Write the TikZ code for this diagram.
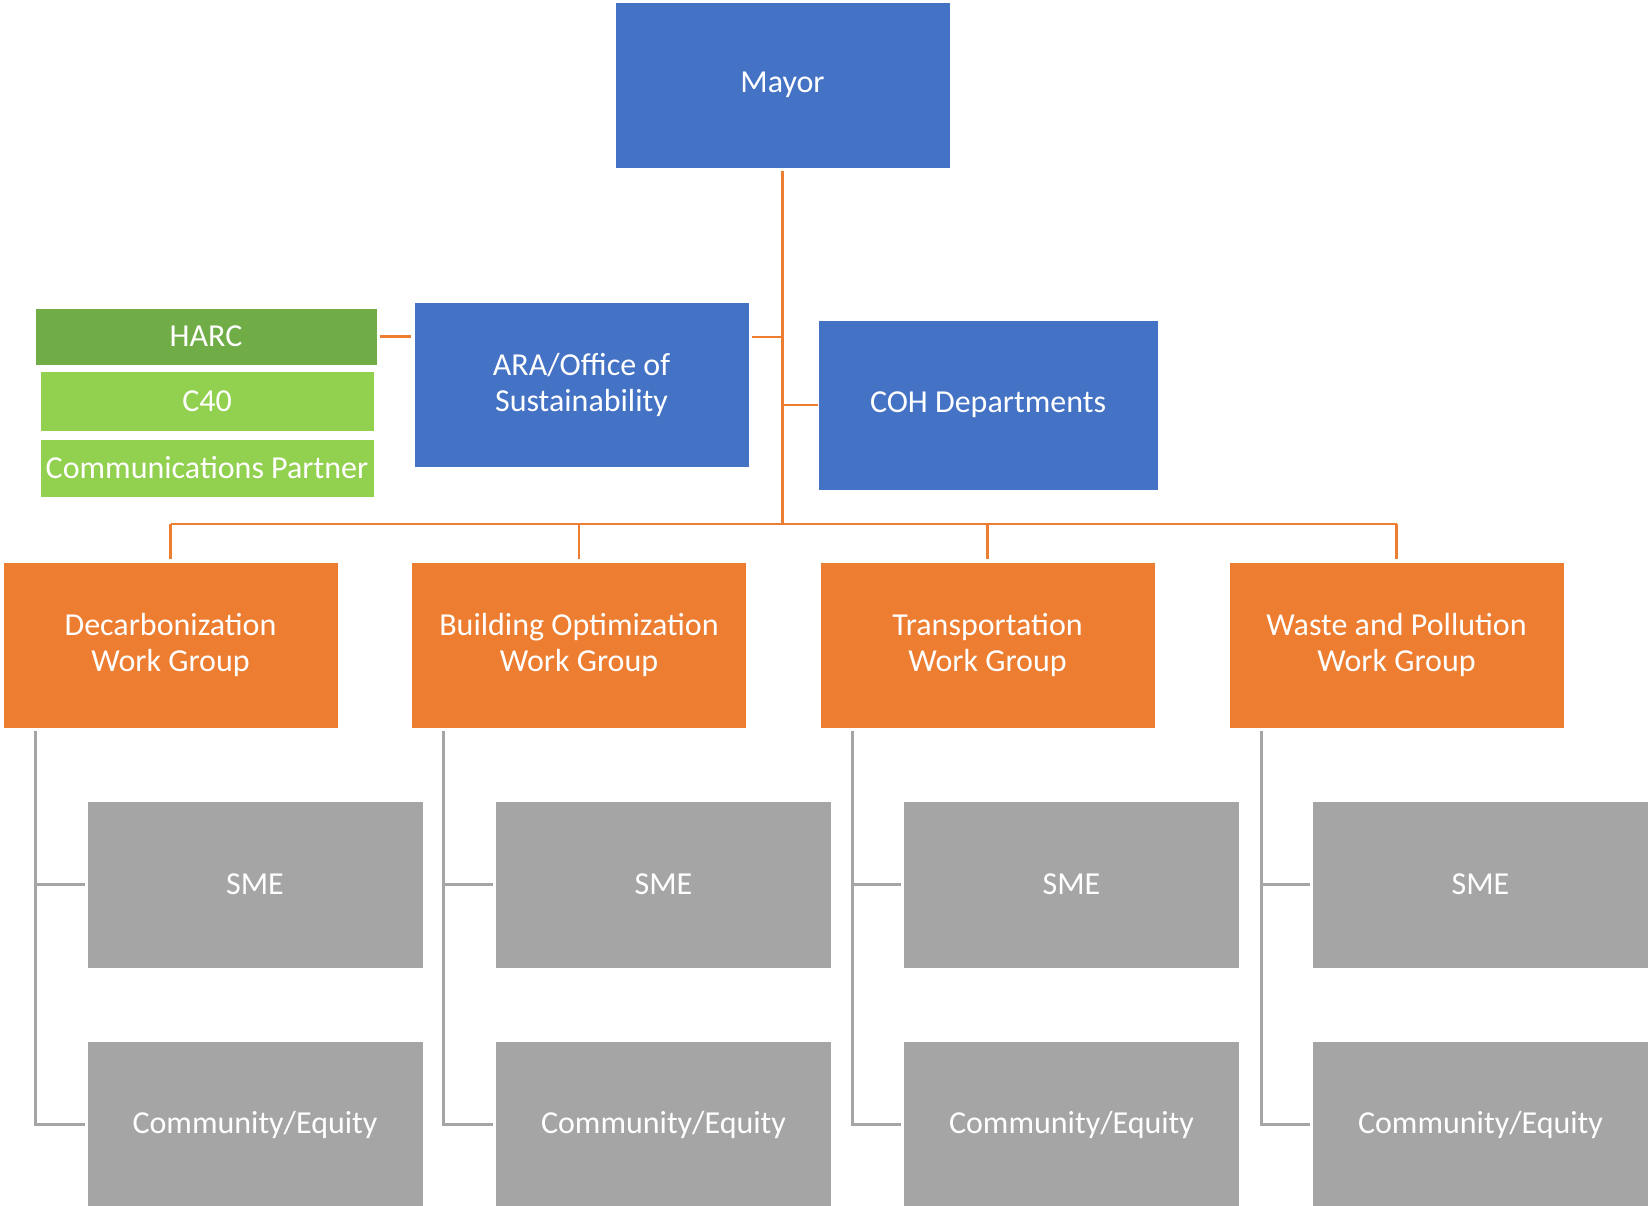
\documentclass[tikz,border=0pt]{standalone}
\usepackage{fontspec}
\setmainfont{Carlito}
\definecolor{cblue}{HTML}{4472C4}
\definecolor{corange}{HTML}{ED7D31}
\definecolor{cgray}{HTML}{A5A5A5}
\definecolor{cdgreen}{HTML}{70AD47}
\definecolor{clgreen}{HTML}{92D050}
\begin{document}
\begin{tikzpicture}[x=1pt,y=-1pt,font=\fontsize{32}{36}\selectfont,
  box/.style={rectangle,inner sep=0pt,text=white,align=center,draw=white,line width=0.6pt},
  bluebox/.style={box,fill=cblue},
  wgbox/.style={box,fill=corange,minimum width=335pt,minimum height=166pt},
  graybox/.style={box,fill=cgray,minimum width=336pt,minimum height=167pt},
  greenbox/.style={box,minimum width=334pt},
  oline/.style={draw=corange,line width=2.6pt},
  gline/.style={draw=cgray,line width=2.6pt}]
\useasboundingbox (0,0) rectangle (1649,1206);
\fill[white] (0,0) rectangle (1649,1206);
% top level
\node[bluebox,minimum width=335pt,minimum height=166pt] (mayor) at (782.5,85) {Mayor};
\node[bluebox,minimum width=335pt,minimum height=165pt] (ara) at (581.5,384.5) {ARA/Office of\\Sustainability};
\node[bluebox,minimum width=340pt,minimum height=170pt] (coh) at (988,405) {COH Departments};
% partners
\node[greenbox,fill=cdgreen,minimum width=342pt,minimum height=57pt] (harc) at (206,336.5) {HARC};
\node[greenbox,fill=clgreen,minimum height=60pt] (c40) at (207,401) {C40};
\node[greenbox,fill=clgreen,minimum height=58pt] (comm) at (207,468) {Communications Partner};
% work groups
\node[wgbox] (wg1) at (170.5,645) {Decarbonization\\Work Group};
\node[wgbox] (wg2) at (579,645) {Building Optimization\\Work Group};
\node[wgbox] (wg3) at (987.5,645) {Transportation\\Work Group};
\node[wgbox] (wg4) at (1396.5,645) {Waste and Pollution\\Work Group};
% sub groups
\node[graybox] (sme1) at (255,884.5) {SME};
\node[graybox] (sme2) at (663.5,884.5) {SME};
\node[graybox] (sme3) at (1071.5,884.5) {SME};
\node[graybox] (sme4) at (1480.5,884.5) {SME};
\node[graybox] (cq1) at (255,1124.5) {Community/Equity};
\node[graybox] (cq2) at (663.5,1124.5) {Community/Equity};
\node[graybox] (cq3) at (1071.5,1124.5) {Community/Equity};
\node[graybox] (cq4) at (1480.5,1124.5) {Community/Equity};
% orange connectors
\coordinate (bus) at (782.5,524);
\coordinate (j1) at (782.5,337);
\draw[oline] ([yshift=-3pt]mayor.south) -- (bus);
\draw[oline] ([xshift=3pt]j1 -| ara.east) -- (j1);
\draw[oline] (coh.west -| bus) -- (coh.west);
\draw[oline] ([xshift=3pt]harc.east) -- ([xshift=-3pt]harc.east -| ara.west);
\draw[oline] (wg1.north |- bus) -- (wg4.north |- bus);
\foreach \i in {1,...,4}{
  \draw[oline] (wg\i.north |- bus) -- ([yshift=3pt]wg\i.north);
}
% gray connectors
\foreach \i in {1,...,4}{
  \coordinate (g\i) at ([xshift=32.5pt,yshift=-3pt]wg\i.south west);
  \draw[gline] (g\i) |- ([xshift=-2pt]cq\i.west);
  \draw[gline] (g\i |- sme\i.west) -- ([xshift=-2pt]sme\i.west);
}
\end{tikzpicture}
\end{document}
